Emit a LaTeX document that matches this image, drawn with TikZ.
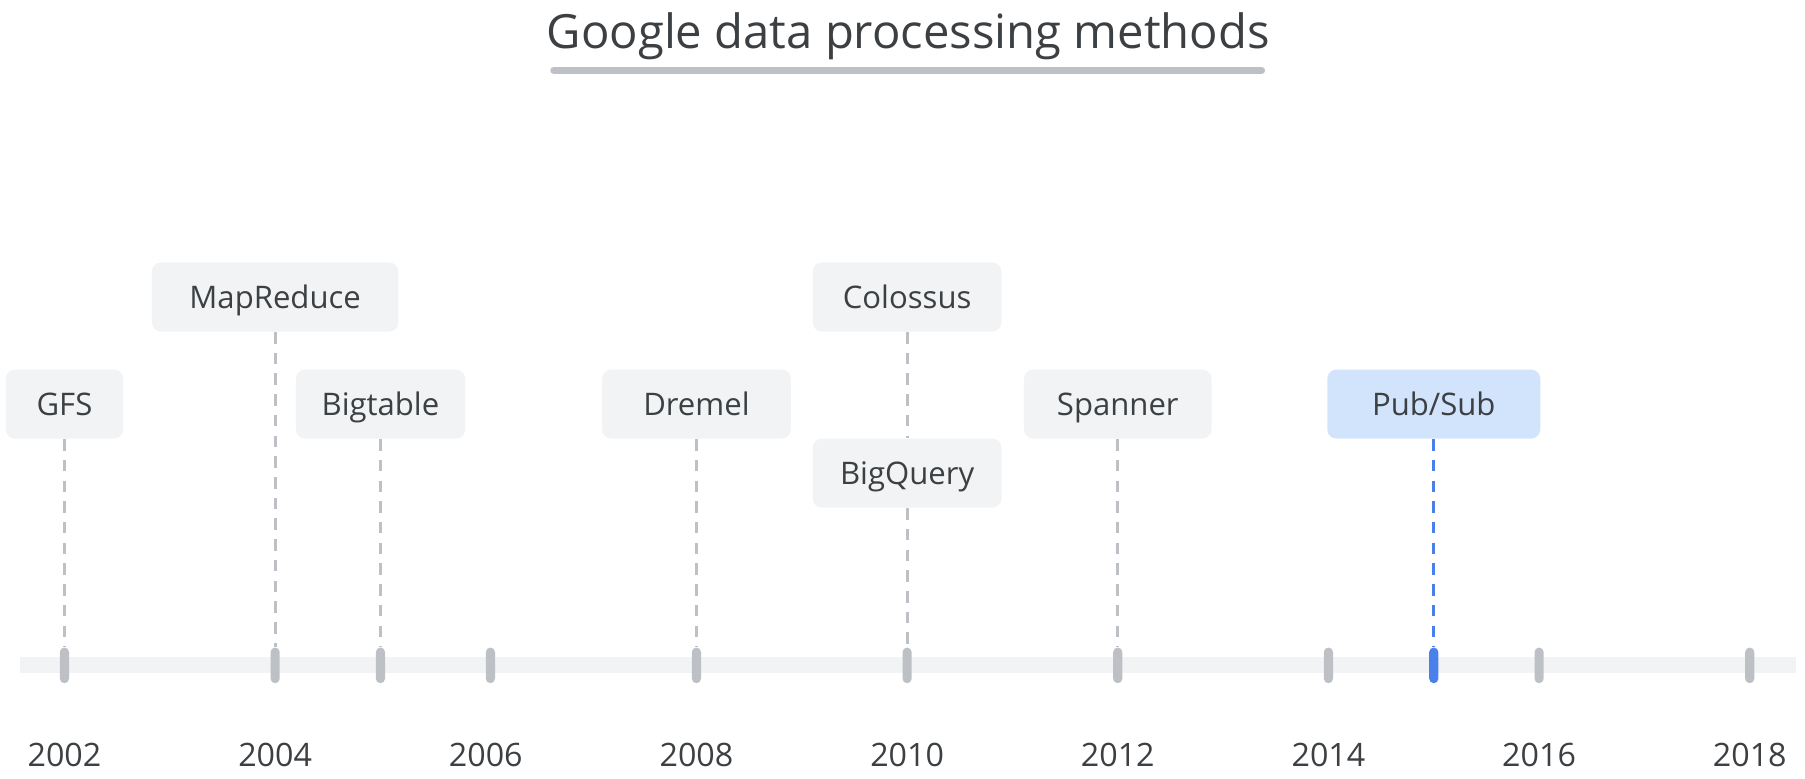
\documentclass[tikz,border=0pt]{standalone}
\usepackage{fontspec}
\setmainfont{Open Sans}
\usepackage{xcolor}
\usepackage{tikz}
\usetikzlibrary{positioning}
\definecolor{inkgrey}{HTML}{3C4043}
\definecolor{boxgrey}{HTML}{F1F3F4}
\definecolor{tickgrey}{HTML}{BDC1C6}
\definecolor{paleblue}{HTML}{D2E3FC}
\definecolor{markblue}{HTML}{4A80EB}

\begin{document}
\begin{tikzpicture}[
        x=0.5pt, y=-0.5pt,
        event/.style={rectangle, fill=boxgrey, rounded corners=4pt, minimum height=30pt, inner sep=0pt, text height=9.6pt, text depth=0pt, text=inkgrey, font=\fontsize{13.5}{16}\selectfont},
        yeartick/.style={rectangle, fill=tickgrey, rounded corners=2pt, minimum width=4pt, minimum height=15.5pt, inner sep=0pt},
        yearlabel/.style={text=inkgrey, font=\fontsize{14}{16}\selectfont, inner sep=0pt},
        link/.style={draw=tickgrey, line width=1.3pt, dash pattern=on 5pt off 4pt}
    ]
        \useasboundingbox (0,0) rectangle (1568,676);

        % title
        \node[text=inkgrey, font=\fontsize{20.5}{25}\selectfont, anchor=base, inner sep=0pt] (title) at (789,42) {Google data processing methods};
        \coordinate (ruleleft) at (481,61);
        \coordinate (ruleright) at (1096,61);
        \draw[tickgrey, line width=3pt, line cap=round] (ruleleft) -- (ruleright);

        % timeline
        \fill[boxgrey] (17,571) rectangle (1560,585);
        \foreach \yr in {2002,2004,2005,2008,2010,2012,2014,2016,2018}
            \node[yeartick] (t\yr) at ({56+(\yr-2002)*91.5},578) {};
        \node[yeartick] (t2006) at (426,578) {};
        \node[yeartick, fill=markblue] (t2015) at (1245.5,578) {};
        \foreach \yr in {2002,2004,2006,2008,2010,2012,2014,2016,2018}
            \node[yearlabel] (l\yr) at ({56+(\yr-2002)*91.5},656) {\yr};

        % events
        \node[event, minimum width=51pt] (gfs) at (56,351) {GFS};
        \node[event, minimum width=107pt] (mapreduce) at (239,258) {MapReduce};
        \node[event, minimum width=73.5pt] (bigtable) at (330.5,351) {Bigtable};
        \node[event, minimum width=82pt] (dremel) at (605,351) {Dremel};
        \node[event, minimum width=82pt] (colossus) at (788,258) {Colossus};
        \node[event, minimum width=82pt] (bigquery) at (788,411) {BigQuery};
        \node[event, minimum width=81.5pt] (spanner) at (971,351) {Spanner};
        \node[event, minimum width=92.5pt, fill=paleblue] (pubsub) at (1245.5,351) {Pub/Sub};

        \draw[link] (gfs) -- (t2002);
        \draw[link] (mapreduce) -- (t2004);
        \draw[link] (bigtable) -- (t2005);
        \draw[link] (dremel) -- (t2008);
        \draw[link] (colossus) -- (bigquery);
        \draw[link] (bigquery) -- (t2010);
        \draw[link] (spanner) -- (t2012);
        \draw[link, draw=markblue] (pubsub) -- (t2015);
    \end{tikzpicture}
\end{document}
